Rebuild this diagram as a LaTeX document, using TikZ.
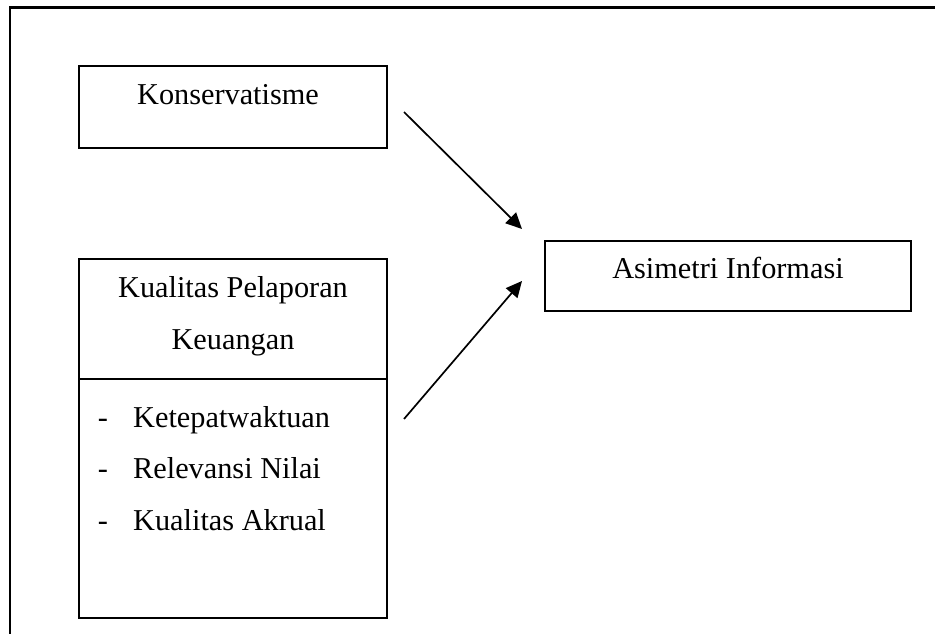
\documentclass[tikz,border=0pt]{standalone}
\usepackage{fontspec}
\setmainfont{Liberation Serif}
\usetikzlibrary{arrows.meta}
\begin{document}
\begin{tikzpicture}[x=1pt,y=-1pt,
  box/.style={draw=black,line width=1.8pt,rectangle,inner sep=0pt},
  txt/.style={inner sep=0pt,anchor=base,font=\fontsize{30.3}{36}\selectfont},
  ltxt/.style={txt,anchor=base west},
  arr/.style={line width=1.7pt,-{Triangle[length=16pt,width=15pt]}}]
\useasboundingbox (0,0) rectangle (935,634);
% outer frame (top and left only)
\draw[line width=2.2pt] (935,7.5) -- (10,7.5) -- (10,634);
% Konservatisme
\node[box,minimum width=308,minimum height=82] (kons) at (233,107) {};
\node[txt] (konst) at (228,104) {Konservatisme};
% Kualitas box
\node[box,minimum width=308,minimum height=120] (kptop) at (233,319) {};
\node[box,minimum width=308,minimum height=239] (kpbot) at (233,498.5) {};
\node[txt] (kp1) at (233,297) {Kualitas Pelaporan};
\node[txt] (kp2) at (233,349) {Keuangan};
\node[txt] (d1) at (103,427) {-};
\node[txt] (d2) at (103,478) {-};
\node[txt] (d3) at (103,530) {-};
\node[ltxt] (i1) at (133,427) {Ketepatwaktuan};
\node[ltxt] (i2) at (133,478) {Relevansi Nilai};
\node[ltxt] (i3) at (133,530) {Kualitas Akrual};
% Asimetri
\node[box,minimum width=366,minimum height=70] (asi) at (728,276) {};
\node[txt] (asit) at (728,278) {Asimetri Informasi};
% arrows
\coordinate (s1) at (404,112);
\coordinate (e1) at (522,229);
\coordinate (s2) at (404,419);
\coordinate (e2) at (522,281);
\draw[arr] (s1) -- (e1);
\draw[arr] (s2) -- (e2);
\end{tikzpicture}
\end{document}
